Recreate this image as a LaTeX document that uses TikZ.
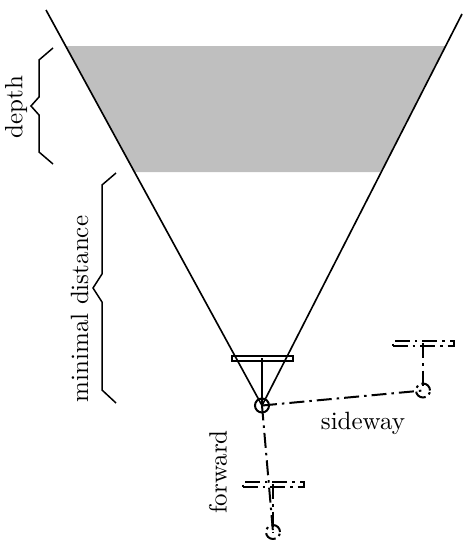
\documentclass[tikz,border=0pt]{standalone}
\definecolor{fieldgray}{RGB}{191,191,191}
\tikzset{
  lens/.style={draw, line width=0.8pt, minimum width=24.4pt, minimum height=2pt, inner sep=0pt, outer sep=0pt},
  ghostlens/.style={lens, dash pattern=on 6pt off 2pt on 1pt off 2pt},
  pivot/.style={draw, circle, line width=0.8pt, minimum size=5.6pt, inner sep=0pt, outer sep=0pt},
  ghostpivot/.style={pivot, dash pattern=on 5pt off 1.6pt on 1pt off 1.6pt},
  ray/.style={line width=0.65pt},
  rig/.style={line width=0.8pt},
  offsetline/.style={line width=0.8pt, dash pattern=on 6pt off 2pt on 1pt off 2pt},
  bracket/.style={line width=0.6pt},
  dimlabel/.style={rotate=90, inner sep=0pt}
}
\begin{document}
\begin{tikzpicture}[x=0.4pt,y=-0.4pt]
  \useasboundingbox (0,0) rectangle (462,540);

  \fill[fieldgray] (66,46) -- (445,46) -- (381,172) -- (134,172) -- cycle;

  \coordinate (rayleft) at (46,10);
  \coordinate (rayright) at (462,14);

  \node[pivot] (camera) at (262,405.5) {};
  \node[lens] (cameralens) at (262,358) {};
  \node[ghostpivot] (side) at (423,390.5) {};
  \node[ghostlens] (sidelens) at (423,343) {};
  \node[ghostpivot] (front) at (273,532) {};
  \node[ghostlens] (frontlens) at (273,484) {};

  \draw[ray] (rayleft) -- (camera.center);
  \draw[ray] (rayright) -- (camera.center);
  \draw[rig] (cameralens.center) -- (camera.center);
  \draw[offsetline] (sidelens.center) -- (side.center);
  \draw[offsetline] (frontlens.center) -- (front.center);
  \draw[offsetline] (camera.center) -- (side.center);
  \draw[offsetline] (camera.center) -- (front.center);

  \draw[bracket] (53,48) -- (39,60) -- (39,97) -- (31,106) -- (39,115) -- (39,152) -- (53,164);
  \draw[bracket] (116,173) -- (102,185) -- (102,274) -- (93,288) -- (102,302) -- (102,390) -- (116,403);

  \node[dimlabel] (depthlabel) at (16,107) {depth};
  \node[dimlabel] (distancelabel) at (79.5,309) {minimal distance};
  \node[dimlabel] (forwardlabel) at (218,472) {forward};
  \node[inner sep=0pt] (sidewaylabel) at (363,423) {sideway};
\end{tikzpicture}
\end{document}
